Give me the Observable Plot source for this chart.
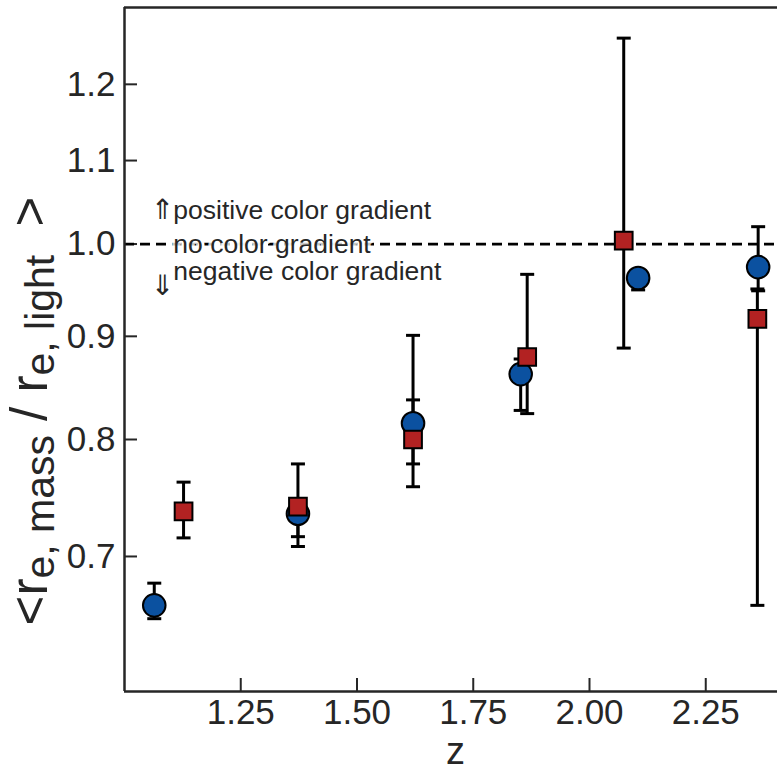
<!DOCTYPE html>
<html>
<head>
<meta charset="utf-8">
<script src="https://cdn.jsdelivr.net/npm/d3@7"></script>
<script src="https://cdn.jsdelivr.net/npm/@observablehq/plot@0.6"></script>
<style>
  html, body { margin: 0; padding: 0; background: #fff; }
  #chart { width: 777px; height: 773px; }
</style>
</head>
<body>
<div id="chart"></div>
<script>
// ---- data ----
const xTicks = [1.25, 1.5, 1.75, 2.0, 2.25];
const yTicks = [0.7, 0.8, 0.9, 1.0, 1.1, 1.2];
const xDomain = [1.0, 2.4];
const yDomain = [0.6, 1.31];

const blueZ  = [1.064, 1.373, 1.6205, 1.852, 2.1046, 2.3627];
const blueR  = [0.662, 0.735, 0.815, 0.862, 0.962, 0.974];
const blueLo = [0.652, 0.716, 0.778, 0.827, 0.949, 0.948];
const blueHi = [0.679, 0.745, 0.837, 0.877, 0.970, 1.020];

const redZ  = [1.127, 1.373, 1.6205, 1.866, 2.0736, 2.361];
const redR  = [0.737, 0.741, 0.800, 0.879, 1.004, 0.918];
const redLo = [0.715, 0.708, 0.758, 0.824, 0.888, 0.662];
const redHi = [0.762, 0.778, 0.901, 0.966, 1.265, 0.950];

const refLine = [1.0];
const noteText = ["positive color gradient", "no color gradient", "negative color gradient"];
const noteY = [1.039, 1.0, 0.969];
const noteX = 1.105;
const arrowText = ["\u21D1", "\u21D3"];
const arrowY = [1.039, 0.953];
const arrowX = 1.082;

// ---- tables ----
const blue = blueZ.map((z, i) => ({z, r: blueR[i], lo: blueLo[i], hi: blueHi[i]}));
const red = redZ.map((z, i) => ({z, r: redR[i], lo: redLo[i], hi: redHi[i]}));
const notes = noteText.map((t, i) => ({t, x: noteX, y: noteY[i]}));
const arrows = arrowText.map((t, i) => ({t, x: arrowX, y: arrowY[i]}));

const W = 777, H = 773;
const mL = 124, mR = 2, mT = 7, mB = 82;
const plotW = W - mL - mR, plotH = H - mT - mB;
const ink = "#262626";
const font = "'Liberation Sans', Arial, Helvetica, sans-serif";

const capSymbol = {
  draw(context) { context.moveTo(-7, 0); context.lineTo(7, 0); }
};

const svg = Plot.plot({
  width: W, height: H,
  marginLeft: mL, marginRight: mR, marginTop: mT, marginBottom: mB,
  style: {fontFamily: font, color: ink, background: "#fff"},
  x: {type: "linear", domain: xDomain},
  y: {type: "log", domain: yDomain},
  marks: [
    // axes tick labels
    Plot.axisX({ticks: xTicks, tickFormat: d => d.toFixed(2), tickSize: 0, tickPadding: 8,
      fontSize: 35, label: null, color: ink}),
    Plot.axisY({ticks: yTicks, tickFormat: d => d.toFixed(1), tickSize: 0, tickPadding: 9,
      fontSize: 35, label: null, color: ink}),
    // inward ticks
    Plot.ruleX(xTicks, {x: d => d, stroke: ink, strokeWidth: 2, insetTop: plotH - 13}),
    Plot.ruleY(yTicks, {y: d => d, stroke: ink, strokeWidth: 2, insetRight: plotW - 13}),
    // reference line
    Plot.ruleY(refLine, {y: d => d, stroke: "#000", strokeWidth: 2.8, strokeDasharray: "10,6", insetRight: -2}),
    // annotations
    Plot.text(notes, {x: "x", y: "y", text: "t", textAnchor: "start", lineAnchor: "middle",
      fontSize: 26.5, fill: ink, stroke: "white", strokeWidth: 6, strokeOpacity: 0.8}),
    Plot.text(arrows, {x: "x", y: "y", text: "t", fontSize: 28, fill: ink,
      fontFamily: "'DejaVu Sans'"}),
    // error bars
    Plot.ruleX(blue, {x: "z", y1: "lo", y2: "hi", stroke: "#000", strokeWidth: 3}),
    Plot.dot(blue, {x: "z", y: "lo", symbol: capSymbol, stroke: "#000", strokeWidth: 3}),
    Plot.dot(blue, {x: "z", y: "hi", symbol: capSymbol, stroke: "#000", strokeWidth: 3}),
    Plot.ruleX(red, {x: "z", y1: "lo", y2: "hi", stroke: "#000", strokeWidth: 3}),
    Plot.dot(red, {x: "z", y: "lo", symbol: capSymbol, stroke: "#000", strokeWidth: 3}),
    Plot.dot(red, {x: "z", y: "hi", symbol: capSymbol, stroke: "#000", strokeWidth: 3}),
    // markers
    Plot.dot(blue, {x: "z", y: "r", r: 11.3, fill: "#0B51A0", stroke: "#000", strokeWidth: 2}),
    Plot.dot(red, {x: "z", y: "r", r: 10, symbol: "square", fill: "#B22222", stroke: "#000", strokeWidth: 2}),
    // spines
    Plot.ruleY([yDomain[1]], {y: d => d, stroke: ink, strokeWidth: 2.5, insetRight: -2}),
    Plot.ruleY([yDomain[0]], {y: d => d, stroke: ink, strokeWidth: 2.5, insetRight: -2}),
    Plot.ruleX([xDomain[0]], {x: d => d, stroke: ink, strokeWidth: 2.5})
  ]
});

// axis titles (with subscripts)
const s = d3.select(svg);
const yl = s.append("text")
  .attr("transform", "translate(47,411) rotate(-90)")
  .attr("text-anchor", "middle")
  .attr("font-family", font)
  .attr("font-size", 51)
  .attr("fill", ink);
yl.append("tspan").text("<r");
yl.append("tspan").attr("font-size", 41).attr("dy", 7).text("e, mass");
yl.append("tspan").attr("dy", -7).text(" / r");
yl.append("tspan").attr("font-size", 41).attr("dy", 7).text("e, light");
yl.append("tspan").attr("dy", -7).text("  >");
yl.attr("xml:space", "preserve").style("white-space", "pre");

s.append("text")
  .attr("x", mL + plotW / 2 + 6)
  .attr("y", 764)
  .attr("text-anchor", "middle")
  .attr("font-family", font)
  .attr("font-size", 38)
  .attr("fill", ink)
  .text("z");

document.getElementById("chart").appendChild(svg);
</script>
</body>
</html>
